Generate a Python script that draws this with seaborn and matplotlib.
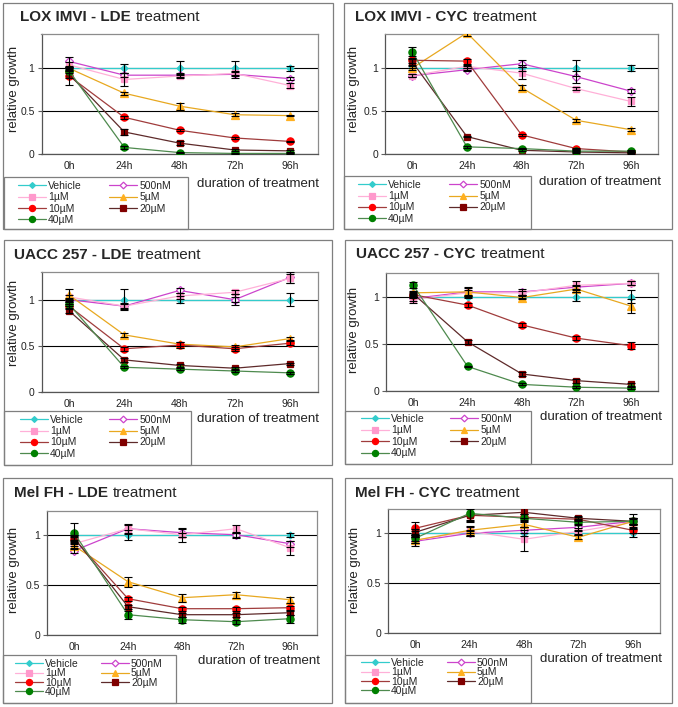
import matplotlib
matplotlib.use("Agg")
import matplotlib.pyplot as plt
import seaborn as sns
import pandas as pd
import numpy as np
from matplotlib.patches import Rectangle

# ---- data ----
HOURS = ["0h", "24h", "48h", "72h", "96h"]
TREATMENTS = ["Vehicle", "500nM", "1µM", "5µM", "10µM", "20µM", "40µM"]

# rows follow TREATMENTS, columns follow HOURS
LOX_LDE = [
    [1.00, 1.00, 1.00, 1.00, 1.00],
    [1.08, 0.92, 0.92, 0.93, 0.88],
    [1.04, 0.87, 0.91, 0.94, 0.80],
    [1.00, 0.71, 0.56, 0.46, 0.45],
    [0.91, 0.43, 0.28, 0.19, 0.15],
    [0.93, 0.26, 0.13, 0.05, 0.04],
    [0.97, 0.08, 0.02, 0.01, 0.01],
]
LOX_LDE_ERR = [
    [0.00, 0.05, 0.08, 0.09, 0.03],
    [0.05, 0.02, 0.02, 0.04, 0.02],
    [0.03, 0.07, 0.02, 0.02, 0.03],
    [0.02, 0.02, 0.04, 0.02, 0.01],
    [0.10, 0.02, 0.01, 0.01, 0.01],
    [0.04, 0.04, 0.02, 0.01, 0.01],
    [0.02, 0.02, 0.01, 0.01, 0.01],
]

LOX_CYC = [
    [1.00, 1.00, 1.00, 1.00, 1.00],
    [0.91, 0.98, 1.05, 0.90, 0.73],
    [0.91, 1.02, 0.94, 0.76, 0.61],
    [1.00, 1.41, 0.77, 0.39, 0.28],
    [1.09, 1.08, 0.22, 0.06, 0.02],
    [1.07, 0.20, 0.04, 0.02, 0.01],
    [1.19, 0.08, 0.06, 0.03, 0.03],
]
LOX_CYC_ERR = [
    [0.00, 0.02, 0.03, 0.09, 0.03],
    [0.02, 0.02, 0.04, 0.07, 0.02],
    [0.02, 0.02, 0.07, 0.02, 0.05],
    [0.02, 0.04, 0.03, 0.02, 0.02],
    [0.03, 0.03, 0.01, 0.01, 0.01],
    [0.03, 0.01, 0.01, 0.01, 0.01],
    [0.05, 0.01, 0.01, 0.01, 0.01],
]

UACC_LDE = [
    [1.00, 1.00, 1.00, 1.00, 1.00],
    [1.00, 0.93, 1.10, 1.00, 1.24],
    [1.03, 0.93, 1.04, 1.08, 1.23],
    [1.05, 0.62, 0.52, 0.49, 0.58],
    [0.93, 0.47, 0.51, 0.47, 0.53],
    [0.88, 0.35, 0.29, 0.26, 0.31],
    [0.95, 0.27, 0.25, 0.23, 0.21],
]
UACC_LDE_ERR = [
    [0.00, 0.11, 0.04, 0.06, 0.07],
    [0.02, 0.03, 0.03, 0.03, 0.06],
    [0.02, 0.02, 0.03, 0.02, 0.05],
    [0.06, 0.02, 0.02, 0.02, 0.02],
    [0.02, 0.02, 0.03, 0.02, 0.02],
    [0.02, 0.02, 0.02, 0.01, 0.01],
    [0.02, 0.01, 0.01, 0.01, 0.01],
]

UACC_CYC = [
    [1.00, 1.00, 1.00, 1.00, 1.00],
    [0.98, 1.05, 1.05, 1.10, 1.14],
    [0.97, 1.04, 1.04, 1.12, 1.14],
    [1.04, 1.05, 0.99, 1.08, 0.90],
    [1.02, 0.91, 0.70, 0.56, 0.48],
    [1.03, 0.52, 0.18, 0.11, 0.07],
    [1.12, 0.26, 0.07, 0.04, 0.03],
]
UACC_CYC_ERR = [
    [0.00, 0.02, 0.02, 0.05, 0.07],
    [0.05, 0.05, 0.03, 0.02, 0.02],
    [0.02, 0.03, 0.02, 0.05, 0.02],
    [0.02, 0.04, 0.02, 0.03, 0.07],
    [0.02, 0.02, 0.02, 0.02, 0.04],
    [0.02, 0.02, 0.02, 0.02, 0.02],
    [0.03, 0.01, 0.01, 0.01, 0.01],
]

MEL_LDE = [
    [1.00, 1.00, 1.00, 1.00, 1.00],
    [0.84, 1.06, 1.02, 1.00, 0.91],
    [0.91, 1.06, 1.00, 1.06, 0.87],
    [0.89, 0.53, 0.37, 0.40, 0.35],
    [0.96, 0.36, 0.26, 0.26, 0.27],
    [0.97, 0.28, 0.20, 0.20, 0.22],
    [1.02, 0.20, 0.15, 0.13, 0.16],
]
MEL_LDE_ERR = [
    [0.00, 0.05, 0.02, 0.03, 0.02],
    [0.02, 0.05, 0.04, 0.02, 0.03],
    [0.02, 0.04, 0.07, 0.04, 0.07],
    [0.02, 0.05, 0.04, 0.03, 0.03],
    [0.02, 0.02, 0.02, 0.02, 0.02],
    [0.02, 0.02, 0.02, 0.02, 0.02],
    [0.10, 0.04, 0.03, 0.02, 0.04],
]

MEL_CYC = [
    [1.00, 1.00, 1.00, 1.00, 1.00],
    [0.92, 1.00, 1.03, 1.06, 1.12],
    [0.93, 1.02, 0.94, 1.02, 1.11],
    [0.93, 1.03, 1.09, 0.96, 1.12],
    [1.05, 1.18, 1.16, 1.14, 1.03],
    [1.01, 1.18, 1.21, 1.15, 1.12],
    [0.95, 1.20, 1.15, 1.11, 1.12],
]
MEL_CYC_ERR = [
    [0.02, 0.02, 0.03, 0.02, 0.04],
    [0.05, 0.03, 0.03, 0.03, 0.03],
    [0.03, 0.05, 0.12, 0.03, 0.03],
    [0.03, 0.03, 0.03, 0.02, 0.03],
    [0.06, 0.07, 0.03, 0.02, 0.03],
    [0.03, 0.06, 0.06, 0.02, 0.03],
    [0.03, 0.07, 0.04, 0.03, 0.07],
]

# ---- styles ----
LINE_COLORS = ["#33CCCC", "#CC44CC", "#FFB0D8", "#E8A820", "#A03C3C", "#5E2A2A", "#4E8A4E"]
FACE_COLORS = ["#33CCCC", "white", "#FF99CC", "#FFB020", "#FF0000", "#800000", "#008000"]
EDGE_COLORS = ["#33CCCC", "#CC44CC", "#FF99CC", "#FFB020", "#FF0000", "#800000", "#008000"]
MARKERS = ["D", "D", "s", "^", "o", "s", "o"]
MSIZES = [3.5, 4, 5, 5.5, 5.2, 5, 5.2]

W, H = 678, 707

# title, means, errors, ymax, outer box, axes box (l,t,r,b), legend box,
# legend handle x, first legend row y, col spacing, row spacing, xlabel pos, title pos, ylabel pos
PANELS = [
    dict(name="LOX IMVI - LDE", mean=LOX_LDE, err=LOX_LDE_ERR, ymax=1.4,
         box=(3, 3, 333, 229), ax=(41.5, 33.9, 317.5, 154.3), leg=(4, 177, 188, 229),
         hx=18, ry=185, cs=2.6, ls=0.12, xl=(197, 184), tt=(20, 17), yl=(15, 89)),
    dict(name="LOX IMVI - CYC", mean=LOX_CYC, err=LOX_CYC_ERR, ymax=1.4,
         box=(344, 3, 672, 229), ax=(385, 33.7, 658, 153.7), leg=(344, 176, 531, 229),
         hx=358, ry=184, cs=2.6, ls=0.12, xl=(539, 182), tt=(355, 17), yl=(355, 89)),
    dict(name="UACC 257 - LDE", mean=UACC_LDE, err=UACC_LDE_ERR, ymax=1.3,
         box=(4, 240, 332, 465), ax=(41.5, 271.9, 317.5, 392.3), leg=(4, 411, 191, 465),
         hx=20, ry=419, cs=2.4, ls=0.12, xl=(197, 419), tt=(14, 255), yl=(15, 323)),
    dict(name="UACC 257 - CYC", mean=UACC_CYC, err=UACC_CYC_ERR, ymax=1.25,
         box=(345, 240, 672, 464), ax=(386, 273, 658, 391), leg=(345, 411, 531, 464),
         hx=361, ry=418, cs=2.4, ls=0.14, xl=(540, 417), tt=(356, 254), yl=(355, 330)),
    dict(name="Mel FH - LDE", mean=MEL_LDE, err=MEL_LDE_ERR, ymax=1.24,
         box=(3, 478, 332, 703), ax=(47, 510.7, 317, 634.7), leg=(3, 655, 176, 703),
         hx=15, ry=663, cs=2.1, ls=-0.06, xl=(198, 661), tt=(14, 493), yl=(15, 570)),
    dict(name="Mel FH - CYC", mean=MEL_CYC, err=MEL_CYC_ERR, ymax=1.24,
         box=(345, 478, 672, 703), ax=(388, 509.3, 660, 633.3), leg=(345, 655, 531, 703),
         hx=361, ry=662, cs=2.1, ls=-0.06, xl=(540, 659), tt=(355, 493), yl=(356, 570)),
]

sns.set_style("white")
plt.rcParams["font.family"] = ["Liberation Sans", "DejaVu Sans"]

fig = plt.figure(figsize=(W / 100, H / 100), dpi=100)
renderer = fig.canvas.get_renderer()


def fig_rect(l, t, r, b):
    return Rectangle((l / W, 1 - b / H), (r - l) / W, (b - t) / H, transform=fig.transFigure,
                     fill=False, edgecolor="#7f7f7f", linewidth=0.9)


for p in PANELS:
    fig.add_artist(fig_rect(*p["box"]))
    fig.add_artist(fig_rect(*p["leg"]))

    l, t, r, b = p["ax"]
    ax = fig.add_axes([l / W, 1 - b / H, (r - l) / W, (b - t) / H])
    x = np.arange(len(HOURS))

    for i, trt in enumerate(TREATMENTS):
        df = pd.DataFrame({"x": x, "y": p["mean"][i]})
        sns.lineplot(data=df, x="x", y="y", ax=ax, color=LINE_COLORS[i], lw=0.9,
                     marker=MARKERS[i], markersize=MSIZES[i], markerfacecolor=FACE_COLORS[i],
                     markeredgecolor=EDGE_COLORS[i], markeredgewidth=0.9,
                     errorbar=None, label=trt, zorder=3 + i * 0.1)
        ax.errorbar(x, p["mean"][i], yerr=p["err"][i], fmt="none", ecolor="black",
                    elinewidth=0.8, capsize=3, capthick=0.8, zorder=4)

    if ax.get_legend() is not None:
        ax.get_legend().remove()

    ax.set_xlim(-0.5, len(HOURS) - 0.5)
    ax.set_ylim(0, p["ymax"])
    ax.set_xticks(x)
    ax.set_xticklabels(HOURS)
    ax.set_xticks(np.arange(-0.5, len(HOURS), 1), minor=True)
    ax.set_yticks([0, 0.5, 1])
    ax.set_yticklabels(["0", "0.5", "1"])
    ax.tick_params(axis="x", which="major", length=0, labelsize=7.5, pad=5, colors="#222222")
    ax.tick_params(axis="x", which="minor", length=3, direction="out", color="#606060", width=0.8)
    ax.tick_params(axis="y", length=3, direction="out", color="#606060", width=0.8,
                   labelsize=7.5, pad=2, labelcolor="#222222", left=True)
    ax.yaxis.grid(True, color="black", linewidth=0.8)
    ax.set_axisbelow(True)
    for s in ax.spines.values():
        s.set_color("#8c8c8c")
        s.set_linewidth(0.9)
    ax.spines["bottom"].set_color("#555555")
    ax.spines["left"].set_color("#555555")

    ax.set_xlabel("")
    ax.set_ylabel("relative growth", fontsize=9.5, color="#222222")
    # label anchor is its right edge once rotated, so nudge by half the text height
    ax.yaxis.set_label_coords((p["yl"][0] + 5 - l) / (r - l), (b - p["yl"][1]) / (b - t))

    # legend, filled row-wise like the original (two columns)
    handles, labels = ax.get_legend_handles_labels()
    order = [0, 2, 4, 6, 1, 3, 5]
    fig.legend([handles[k] for k in order], [labels[k] for k in order],
               loc="upper left", bbox_to_anchor=(p["hx"] / W, 1 - (p["ry"] - 4) / H),
               ncol=2, frameon=False, fontsize=7.5, handlelength=2.7, handletextpad=0.2,
               columnspacing=p["cs"], labelspacing=p["ls"], borderpad=0, borderaxespad=0,
               markerscale=0.85)

    fig.text(p["xl"][0] / W, 1 - p["xl"][1] / H, "duration of treatment",
             fontsize=9.5, ha="left", va="center", color="#222222")

    # title: bold cell line / drug + normal "treatment"
    tx, ty = p["tt"]
    t1 = fig.text(tx / W, 1 - ty / H, p["name"], fontsize=11, fontweight="bold",
                  ha="left", va="center")
    bb = t1.get_window_extent(renderer)
    fig.text((bb.x1 + 5) / W, 1 - ty / H, "treatment", fontsize=11, ha="left", va="center")

fig.savefig("out.png", dpi=100)
